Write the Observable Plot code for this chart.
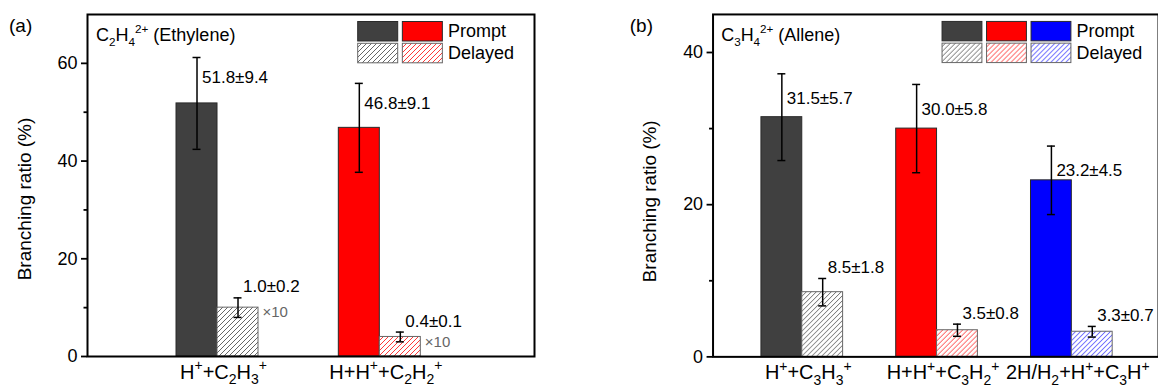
<!DOCTYPE html>
<html><head><meta charset="utf-8">
<script src="https://cdn.jsdelivr.net/npm/d3@7"></script>
<script src="https://cdn.jsdelivr.net/npm/@observablehq/plot@0.6"></script>
<style>
html,body{margin:0;padding:0;background:#fff;overflow:hidden;width:1158px;height:388px}
#wrap{position:relative;width:1158px;height:388px;overflow:hidden}
.panel{position:absolute;top:0}
</style></head><body>
<svg width="0" height="0" style="position:absolute;left:0;top:0">
<defs>
<pattern id="hatch0" patternUnits="userSpaceOnUse" width="5" height="5"><rect width="5" height="5" fill="#fff"/><path d="M-1,1 l2,-2 M0,5 l5,-5 M4,6 l2,-2" stroke="#555" stroke-width="0.9"/></pattern>
<pattern id="hatch1" patternUnits="userSpaceOnUse" width="5" height="5"><rect width="5" height="5" fill="#fff"/><path d="M-1,1 l2,-2 M0,5 l5,-5 M4,6 l2,-2" stroke="#ff2020" stroke-width="0.9"/></pattern>
<pattern id="hatch2" patternUnits="userSpaceOnUse" width="5" height="5"><rect width="5" height="5" fill="#fff"/><path d="M-1,1 l2,-2 M0,5 l5,-5 M4,6 l2,-2" stroke="#2020ff" stroke-width="0.9"/></pattern>
</defs></svg>
<div id="wrap"><div id="pa" class="panel" style="left:0"></div><div id="pb" class="panel" style="left:580px"></div></div>
<script>
// ---- data ----
const productsA = ["H^{+}+C_{2}H_{3}^{+}", "H+H^{+}+C_{2}H_{2}^{+}"];
const promptA = [51.8, 46.8];
const promptErrA = [9.4, 9.1];
const delayedA = [1.0, 0.4];
const delayedErrA = [0.2, 0.1];
const delayedFactorA = 10;
const yTicksA = [0, 20, 40, 60];
const yMinorA = [10, 30, 50];

const productsB = ["H^{+}+C_{3}H_{3}^{+}", "H+H^{+}+C_{3}H_{2}^{+}", "2H/H_{2}+H^{+}+C_{3}H^{+}"];
const promptB = [31.5, 30.0, 23.2];
const promptErrB = [5.7, 5.8, 4.5];
const delayedB = [8.5, 3.5, 3.3];
const delayedErrB = [1.8, 0.8, 0.7];
const delayedFactorB = 1;
const yTicksB = [0, 20, 40];
const yMinorB = [10, 30];

const promptColors = ["#404040", "#ff0000", "#0000ff"];
const legendLabels = ["Prompt", "Delayed"];
const FONT = '"Liberation Sans", Arial, Helvetica, sans-serif';

// ---- rich text (sub/superscripts) ----
function parseRich(s) {
  const segs = []; const re = /([_^])\{([^}]*)\}/g; let m, last = 0;
  while ((m = re.exec(s))) {
    if (m.index > last) segs.push({t: s.slice(last, m.index), m: 0});
    segs.push({t: m[2], m: m[1] === "_" ? 1 : 2});
    last = re.lastIndex;
  }
  if (last < s.length) segs.push({t: s.slice(last), m: 0});
  return segs;
}
function setRich(el, s, fs, k = 0.65) {
  const segs = parseRich(s);
  while (el.firstChild) el.removeChild(el.firstChild);
  let cur = 0;
  for (const sg of segs) {
    const ts = document.createElementNS("http://www.w3.org/2000/svg", "tspan");
    const off = sg.m === 1 ? 0.28 * fs : sg.m === 2 ? -0.42 * fs : 0;
    if (off !== cur) ts.setAttribute("dy", off - cur);
    if (sg.m) ts.setAttribute("font-size", k * fs);
    ts.textContent = sg.t; el.appendChild(ts); cur = off;
  }
}
function richify(svg) {
  d3.select(svg).selectAll("text").each(function() {
    const s = this.textContent;
    if (!/[_^]\{/.test(s)) return;
    const fs = parseFloat(getComputedStyle(this).fontSize) || 18;
    setRich(this, s, fs, 0.7);
  });
}

function panel(o) {
  const idx = d3.range(o.products.length);
  const w = o.barW, cap = o.cap, f = o.factor;
  const dv = i => o.delayed[i] * f, de = i => o.delayedErr[i] * f;
  const pc = i => i - w / 2, dc = i => i + w / 2;
  const fmt = (v, e) => `${v.toFixed(1)}\u00b1${e.toFixed(1)}`;
  const marks = [
    Plot.rect(idx, {x1: i => i - w, x2: i => i, y1: 0, y2: i => o.prompt[i], fill: i => promptColors[i], stroke: "#2a2a2a", strokeWidth: 1}),
    Plot.rect(idx, {x1: i => i, x2: i => i + w, y1: 0, y2: dv, fill: i => `url(#hatch${i})`, stroke: "#666", strokeWidth: 1}),
    Plot.ruleX(idx, {x: pc, y1: i => o.prompt[i] - o.promptErr[i], y2: i => o.prompt[i] + o.promptErr[i], stroke: "black", strokeWidth: 1.5}),
    Plot.ruleY(idx, {y: i => o.prompt[i] + o.promptErr[i], x1: i => pc(i) - cap, x2: i => pc(i) + cap, stroke: "black", strokeWidth: 1.5}),
    Plot.ruleY(idx, {y: i => o.prompt[i] - o.promptErr[i], x1: i => pc(i) - cap, x2: i => pc(i) + cap, stroke: "black", strokeWidth: 1.5}),
    Plot.ruleX(idx, {x: dc, y1: i => dv(i) - de(i), y2: i => dv(i) + de(i), stroke: "black", strokeWidth: 1.5}),
    Plot.ruleY(idx, {y: i => dv(i) + de(i), x1: i => dc(i) - cap, x2: i => dc(i) + cap, stroke: "black", strokeWidth: 1.5}),
    Plot.ruleY(idx, {y: i => dv(i) - de(i), x1: i => dc(i) - cap, x2: i => dc(i) + cap, stroke: "black", strokeWidth: 1.5}),
    Plot.text(idx, {x: pc, y: i => o.prompt[i] + o.promptErr[i], text: i => fmt(o.prompt[i], o.promptErr[i]), textAnchor: "start", dx: 5, dy: o.labelDy, fontSize: 17, fill: "black"}),
    Plot.text(idx, {x: dc, y: i => dv(i) + de(i), text: i => fmt(o.delayed[i], o.delayedErr[i]), textAnchor: "start", dx: 5, dy: -11, fontSize: 17, fill: "black"}),
  ];
  if (f !== 1) marks.push(Plot.text(idx, {x: i => i + w, y: dv, text: () => `\u00d7${f}`, textAnchor: "start", dx: 4, dy: 5, fontSize: 15, fill: "#666"}));
  marks.push(
    Plot.axisY(o.yTicks, {tickSize: 6, tickPadding: 4, fontSize: 18, strokeWidth: 1.8, label: null}),
    Plot.axisY(o.yMinor, {tickSize: 3.5, tickFormat: () => "", strokeWidth: 1.8, label: null}),
    Plot.axisX(idx, {tickSize: 0, tickPadding: 8, tickFormat: i => o.products[i], fontSize: 20, dx: 6, label: null}),
    Plot.frame({stroke: "black", strokeWidth: 2})
  );
  const svg = Plot.plot({
    width: 580, height: 388,
    marginTop: 14, marginBottom: o.mb, marginLeft: o.ml, marginRight: o.mr,
    x: {domain: o.xDomain, axis: null},
    y: {domain: [0, o.yMax], axis: null},
    color: {type: "identity"},
    style: {fontFamily: FONT, fontSize: "18px", color: "black", background: "white", overflow: "visible"},
    marks
  });
  document.getElementById(o.el).appendChild(svg);
  richify(svg);
  const s = d3.select(svg);
  s.append("text").attr("x", o.tagX).attr("y", 32).attr("text-anchor", "start").attr("font-size", 19).attr("font-family", FONT).attr("fill", "black").text(o.tag);
  s.append("text").attr("transform", `translate(${o.ylX},${o.ylY}) rotate(-90)`).attr("text-anchor", "middle").attr("dy", "0.35em")
    .attr("font-size", 19).attr("font-family", FONT).attr("fill", "black").text("Branching ratio (%)");
  const t = s.append("text").attr("x", o.titleX).attr("y", 41).attr("text-anchor", "start").attr("font-size", 18).attr("font-family", FONT).attr("fill", "black");
  setRich(t.node(), o.title, 18, 0.65);
  const lg = s.append("g");
  const n = o.products.length, step = 44.65;
  for (let i = 0; i < n; i++) {
    lg.append("rect").attr("x", o.legX + i * step).attr("y", 21.5).attr("width", 40).attr("height", 19.5).attr("fill", promptColors[i]).attr("stroke", "#2a2a2a").attr("stroke-width", 1);
    lg.append("rect").attr("x", o.legX + i * step).attr("y", 43.3).attr("width", 40).attr("height", 19.5).attr("fill", `url(#hatch${i})`).attr("stroke", "#666").attr("stroke-width", 1);
  }
  legendLabels.forEach((lab, k) => {
    lg.append("text").attr("x", o.legX + n * step + 1).attr("y", k ? 52.8 : 30.5).attr("dy", "0.35em").attr("text-anchor", "start").attr("font-size", 18).attr("font-family", FONT).attr("fill", "black").text(lab);
  });
}

panel({el: "pa", products: productsA, prompt: promptA, promptErr: promptErrA, delayed: delayedA, delayedErr: delayedErrA,
  factor: delayedFactorA, yTicks: yTicksA, yMinor: yMinorA, yMax: 70, xDomain: [-0.801, 1.953], barW: 0.2526, cap: 0.0246,
  mb: 32, ml: 87, mr: 46, labelDy: 20, tag: "(a)", tagX: 9, ylX: 24, ylY: 199,
  title: "C_{2}H_{4}^{2+} (Ethylene)", titleX: 96, legX: 357.7});
panel({el: "pb", products: productsB, prompt: promptB, promptErr: promptErrB, delayed: delayedB, delayedErr: delayedErrB,
  factor: delayedFactorB, yTicks: yTicksB, yMinor: yMinorB, yMax: 45, xDomain: [-0.662, 2.643], barW: 0.303, cap: 0.0296,
  mb: 30.4, ml: 133, mr: 0, labelDy: 25, tag: "(b)", tagX: 50, ylX: 70, ylY: 202,
  title: "C_{3}H_{4}^{2+} (Allene)", titleX: 141.7, legX: 363.3});
</script>
</body></html>
